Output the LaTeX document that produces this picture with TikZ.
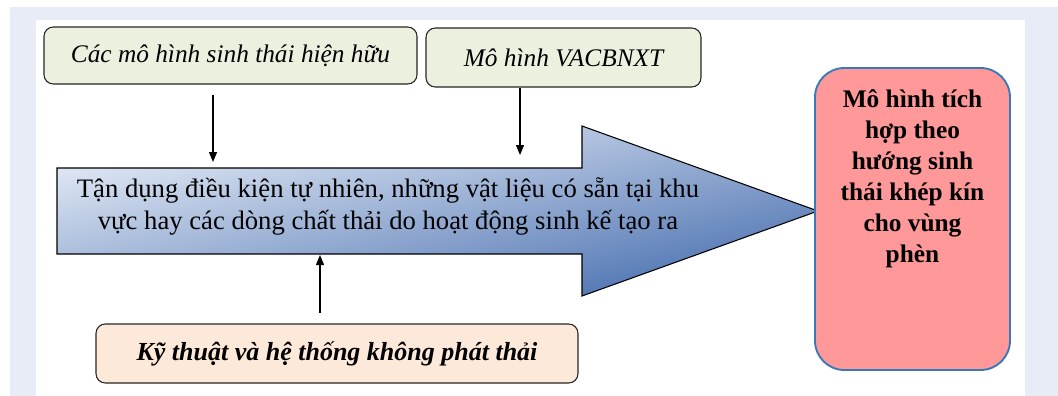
\documentclass[tikz,border=0pt]{standalone}
\usepackage{fontspec}
\setmainfont{Liberation Serif}
\usetikzlibrary{arrows.meta,positioning}
\definecolor{khungnen}{HTML}{E7ECF6}
\definecolor{xanhla}{HTML}{EBF1DE}
\definecolor{camnhat}{HTML}{FDE9D9}
\definecolor{hongdo}{HTML}{FF9898}
\definecolor{xanhvien}{HTML}{3A78B8}
\definecolor{xanhsang}{HTML}{E6EDF7}
\definecolor{xanhdam}{HTML}{4A70B0}
\tikzset{
>={Triangle[length=7.5pt,width=6pt]},
  nguon/.style={
    rectangle,
    rounded corners=7pt,
    fill=xanhla,
    draw=black!85, thick,
    font=\fontsize{19}{22}\selectfont\itshape,
    text centered},
  kythuat/.style={
    nguon,
    fill=camnhat,
    font=\fontsize{19.5}{22}\selectfont\bfseries\itshape},
  ketqua/.style={
    rectangle,
    rounded corners=22pt,
    fill=hongdo,
    draw=xanhvien, line width=1.4pt},
  muiten/.style={
    draw=black, thick,
    top color=xanhsang,
    bottom color=xanhdam,
    shading angle=12},
  line/.style={draw, line width=0.9pt, ->},
}
\begin{document}
\begin{tikzpicture}[x=0.75pt, y=-0.75pt]
  % nen
  \fill[white] (0,0) rectangle (1058,396);
  \fill[khungnen] (10,7) rectangle (1058,396);
  \fill[white] (36,20) rectangle (1025,396);
  \useasboundingbox (0,0) rectangle (1058,396);

  % cac khoi dau vao
  \node[nguon, minimum width=279.75pt, minimum height=42.75pt] (hienhuu) at (230.5,55.5)
    {Các mô hình sinh thái hiện hữu};
  \node[nguon, minimum width=206.25pt, minimum height=44.25pt] (vacbnxt) at (563.5,57.5)
    {Mô hình VACBNXT};
  \node[kythuat, minimum width=361.5pt, minimum height=44.25pt] (khongthai) at (337,353.5)
    {Kỹ thuật và hệ thống không phát thải};

  % mui ten lon
  \path[muiten] (57,168) -- (582,168) -- (582,126) -- (818,211)
    -- (582,296) -- (582,254) -- (57,254) -- cycle;
  \node[align=center, font=\fontsize{20}{24}\selectfont] (tandung) at (388,206)
    {Tận dụng điều kiện tự nhiên, những vật liệu có sẵn tại khu\\
     vực hay các dòng chất thải do hoạt động sinh kế tạo ra};
  \coordinate (dich1) at (213,162);
  \coordinate (dich2) at (520,155);
  \coordinate (dich3) at (320,255);

  % khoi ket qua
  \node[ketqua, minimum width=146.25pt, minimum height=226.5pt] (ketqua) at (912.5,219) {};
  \node[anchor=north, inner sep=0pt, align=center,
    font=\fontsize{19}{23.25}\selectfont\bfseries] (ketquachu) at ([yshift=-16.5pt]ketqua.north)
    {Mô hình tích\\ hợp theo\\ hướng sinh\\ thái khép kín\\ cho vùng\\ phèn};

  % ket noi
  \draw[line, shorten <=8pt] (hienhuu.south -| dich1) -- (dich1);
  \draw[line] (vacbnxt.south -| dich2) -- (dich2);
  \draw[line, shorten <=8pt] (khongthai.north -| dich3) -- (dich3);
\end{tikzpicture}
\end{document}
